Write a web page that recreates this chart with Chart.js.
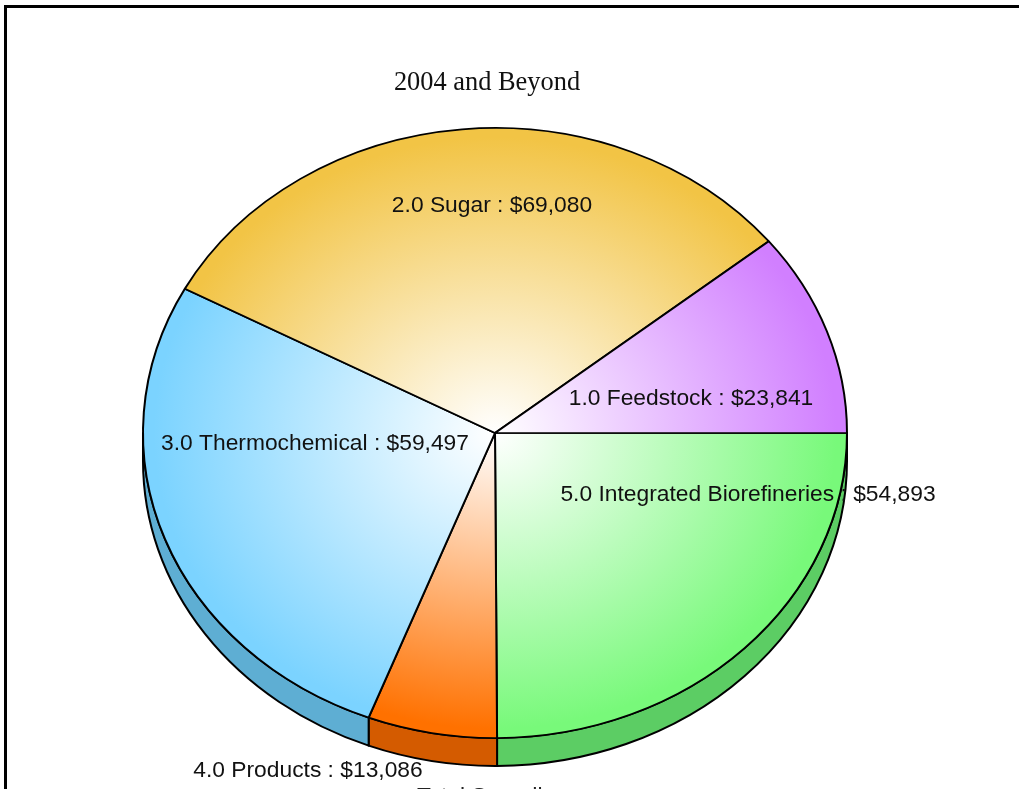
<!DOCTYPE html>
<html>
<head>
<meta charset="utf-8">
<title>2004 and Beyond</title>
<script src="https://cdn.jsdelivr.net/npm/chart.js@4"></script>
<style>
  html, body { margin: 0; padding: 0; background: #fff; overflow: hidden; }
  #wrap { position: relative; width: 1019px; height: 789px; overflow: hidden; }
  #frame { position: absolute; left: 4px; top: 5px; right: -10px; bottom: -10px; border: 3px solid #000; pointer-events: none; }
  #total { position: absolute; left: 417px; top: 782px; white-space: nowrap; font: 22.8px "Liberation Sans", sans-serif; color: #222; }
</style>
</head>
<body>
<div id="wrap">
  <canvas id="pie" width="1019" height="789"></canvas>
  <div id="frame"></div>
  <div id="total">Total Spending</div>
</div>
<script>
// listed clockwise from 3 o'clock, so the slices run as on the original
const categories = ['5.0 Integrated Biorefineries', '4.0 Products', '3.0 Thermochemical', '2.0 Sugar', '1.0 Feedstock'];
const spending = [54893, 13086, 59497, 69080, 23841];
const topColors = ['#78f97a', '#ff7100', '#7bd3ff', '#f2c445', '#d17fff'];
const sideColors = ['#5ccd64', '#d45b00', '#5eaed3', '#c9a03a', '#ab68d1'];
const labelSpots = [[748, 495], [308, 771], [315, 444], [492, 206], [691, 399]];

const CX = 495, CY = 433, RX = 352, RY = 305, DEPTH = 28;

function sliceFill(c) {
  const area = c.chart.chartArea;
  if (!area) return topColors[c.dataIndex];
  const x = (area.left + area.right) / 2, y = (area.top + area.bottom) / 2;
  const g = c.chart.ctx.createRadialGradient(x, y, 0, x, y, RX * 0.97);
  g.addColorStop(0, '#ffffff');
  g.addColorStop(1, topColors[c.dataIndex]);
  return g;
}

// squashes the round pie into an ellipse and hangs the rim under it
const tiltPlugin = {
  id: 'tilt',
  beforeDatasetsDraw(chart) {
    const ctx = chart.ctx;
    const arcs = chart.getDatasetMeta(0).data;
    ctx.save();
    ctx.lineWidth = 2;
    ctx.strokeStyle = '#000';
    ctx.lineJoin = 'round';
    arcs.forEach((arc, i) => {
      const a = Math.max(arc.startAngle, 0), b = Math.min(arc.endAngle, Math.PI);
      if (b <= a) return;
      ctx.beginPath();
      ctx.ellipse(CX, CY, RX, RY, 0, a, b);
      ctx.ellipse(CX, CY + DEPTH, RX, RY, 0, b, a, true);
      ctx.closePath();
      ctx.fillStyle = sideColors[i];
      ctx.fill();
      ctx.stroke();
    });
    ctx.restore();
    const first = arcs[0];
    ctx.save();
    ctx.translate(CX, CY);
    ctx.scale(1, RY / RX);
    ctx.translate(-first.x, -first.y);
  },
  afterDatasetsDraw(chart) {
    chart.ctx.restore();
  },
  afterDraw(chart) {
    const ctx = chart.ctx;
    ctx.save();
    ctx.font = '22.8px "Liberation Sans", sans-serif';
    ctx.fillStyle = '#111';
    ctx.textAlign = 'center';
    ctx.textBaseline = 'middle';
    categories.forEach((name, i) => {
      const text = name + ' : $' + spending[i].toLocaleString('en-US');
      ctx.fillText(text, labelSpots[i][0], labelSpots[i][1]);
    });
    ctx.restore();
  }
};

new Chart(document.getElementById('pie'), {
  type: 'pie',
  data: {
    labels: categories,
    datasets: [{
      data: spending,
      backgroundColor: sliceFill,
      borderColor: '#000',
      borderWidth: 2,
      clip: false
    }]
  },
  options: {
    responsive: false,
    animation: false,
    rotation: 90,
    radius: RX,
    layout: { padding: { top: 0, right: 45, bottom: 0, left: 0 } },
    plugins: {
      legend: { display: false },
      tooltip: { enabled: false },
      title: {
        display: true,
        text: '2004 and Beyond',
        color: '#111',
        font: { family: '"Liberation Serif", serif', size: 26.4, weight: 'normal' },
        padding: { top: 67, bottom: 10 }
      }
    }
  },
  plugins: [tiltPlugin]
});
</script>
</body>
</html>
